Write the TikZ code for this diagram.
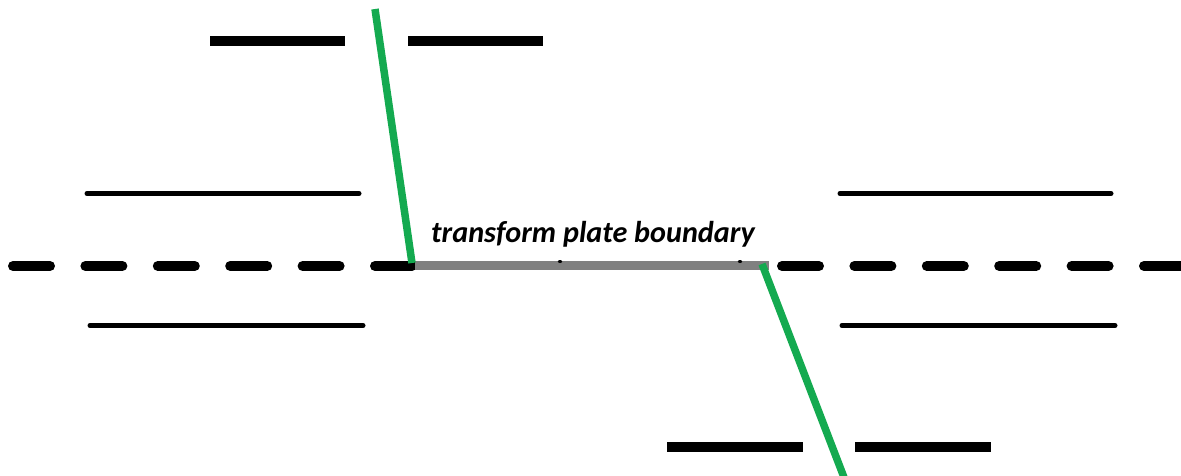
\documentclass[tikz,border=0pt]{standalone}
\usepackage{fontspec}
\setmainfont{Carlito}
\definecolor{faultgreen}{RGB}{20,170,80}
\definecolor{ridgegray}{RGB}{128,128,128}
\tikzset{
  bar/.style={line width=10pt, black, line cap=butt},
  thinline/.style={line width=5pt, black, line cap=round},
  ridge/.style={line width=10pt, black, line cap=round, dash pattern=on 37pt off 35.4pt},
  fault/.style={line width=7.5pt, faultgreen, line cap=butt},
  transform/.style={line width=9pt, ridgegray, line cap=butt},
  lbl/.style={font=\fontsize{30.2}{32}\selectfont\bfseries\itshape, inner sep=0pt, anchor=base west}
}
\begin{document}
\begin{tikzpicture}[x=1pt,y=-1pt]
\useasboundingbox (0,0) rectangle (1181,475);
% top bars
\coordinate (tb1a) at (210,40.5); \coordinate (tb1b) at (345,40.5);
\coordinate (tb2a) at (408,40.5); \coordinate (tb2b) at (543,40.5);
\draw[bar] (tb1a) -- (tb1b);
\draw[bar] (tb2a) -- (tb2b);
% bottom bars
\coordinate (bb1a) at (667,447); \coordinate (bb1b) at (803,447);
\coordinate (bb2a) at (855,447); \coordinate (bb2b) at (991,447);
\draw[bar] (bb1a) -- (bb1b);
\draw[bar] (bb2a) -- (bb2b);
% thin lines
\coordinate (t1a) at (87,193.5); \coordinate (t1b) at (359,193.5);
\coordinate (t2a) at (90,325.5); \coordinate (t2b) at (363,325.5);
\coordinate (t3a) at (840,193.5); \coordinate (t3b) at (1111,193.5);
\coordinate (t4a) at (842,325.5); \coordinate (t4b) at (1115,325.5);
\draw[thinline] (t1a) -- (t1b);
\draw[thinline] (t2a) -- (t2b);
\draw[thinline] (t3a) -- (t3b);
\draw[thinline] (t4a) -- (t4b);
% ridge (dashed)
\coordinate (r1a) at (13,266); \coordinate (r1b) at (412,266);
\coordinate (r2a) at (782,266); \coordinate (r2b) at (1200,266);
\draw[ridge] (r1a) -- (r1b);
\draw[ridge] (r2a) -- (r2b);
% transform boundary
\coordinate (ta) at (415,265.5); \coordinate (tb) at (769,265.5);
\draw[transform] (ta) -- (tb);
\fill[black] (560,261.5) ellipse (2.2pt and 1.5pt);
\fill[black] (740,261.5) ellipse (2.2pt and 1.5pt);
% faults
\coordinate (f1a) at (375,9); \coordinate (f1b) at (412,263);
\coordinate (f2a) at (762,264); \coordinate (f2b) at (845,480);
\draw[fault] (f1a) -- (f1b);
\draw[fault] (f2a) -- (f2b);
% label
\node[lbl] (label) at (431,242) {transform plate boundary};
\end{tikzpicture}
\end{document}
